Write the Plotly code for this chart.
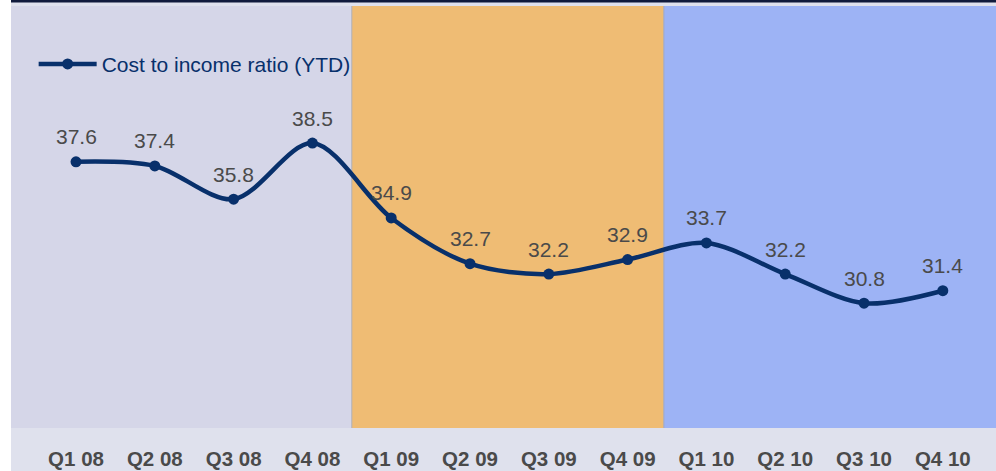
import plotly.graph_objects as go

quarters = ["Q1 08", "Q2 08", "Q3 08", "Q4 08", "Q1 09", "Q2 09",
            "Q3 09", "Q4 09", "Q1 10", "Q2 10", "Q3 10", "Q4 10"]
cost_income = [37.6, 37.4, 35.8, 38.5, 34.9, 32.7, 32.2, 32.9, 33.7, 32.2, 30.8, 31.4]
series_name = "Cost to income ratio (YTD)"

x_idx = list(range(len(quarters)))
NAVY = "#08306b"
FONT = "Liberation Sans, Arial, sans-serif"

fig = go.Figure()
fig.add_trace(go.Scatter(
    x=x_idx, y=cost_income, name=series_name,
    mode="lines+markers",
    line=dict(color=NAVY, width=4.5, shape="spline", smoothing=0.9),
    marker=dict(color=NAVY, size=11),
))

PW, PH = 985, 422
xr = [-0.825, 11.675]
shapes = [
    dict(type="rect", xref="x", yref="paper", x0=xr[0], x1=3.5, y0=0, y1=1,
         fillcolor="#d5d6e8", line=dict(width=0), layer="below"),
    dict(type="rect", xref="x", yref="paper", x0=3.5, x1=7.46, y0=0, y1=1,
         fillcolor="#efbc74", line=dict(width=0), layer="below"),
    dict(type="rect", xref="x", yref="paper", x0=7.46, x1=xr[1], y0=0, y1=1,
         fillcolor="#9db3f5", line=dict(width=0), layer="below"),
    dict(type="line", xref="x", yref="paper", x0=3.5, x1=3.5, y0=0, y1=1,
         line=dict(color="#b0b0b8", width=1), layer="below"),
    dict(type="line", xref="x", yref="paper", x0=7.46, x1=7.46, y0=0, y1=1,
         line=dict(color="#a0a8c0", width=1), layer="below"),
    # white margin at left
    dict(type="rect", xref="paper", yref="paper", x0=-12/PW, x1=0, y0=-50/PH, y1=1 + 10/PH,
         fillcolor="white", line=dict(width=0), layer="below"),
    # dark top strip
    dict(type="rect", xref="paper", yref="paper", x0=0, x1=1.01, y0=1 + 3.5/PH, y1=1 + 7/PH,
         fillcolor="#101a3c", line=dict(width=0), layer="above"),
]

annotations = []
for i, v in zip(x_idx, cost_income):
    annotations.append(dict(
        x=i, y=v, xref="x", yref="y", text=f"{v:.1f}", showarrow=False,
        yshift=25,
        font=dict(family=FONT, size=21, color="#4a4a4a"),
    ))

fig.update_layout(
    width=996, height=471,
    margin=dict(l=11, r=0, t=6, b=43),
    paper_bgcolor="#dfe1ed",
    plot_bgcolor="#dfe1ed",
    showlegend=True,
    legend=dict(x=0.023, y=0.862, xanchor="left", yanchor="middle",
                bgcolor="rgba(0,0,0,0)", itemwidth=58,
                font=dict(family=FONT, size=21, color=NAVY)),
    xaxis=dict(range=xr, tickmode="array", tickvals=x_idx, ticktext=quarters,
               showgrid=False, zeroline=False, showline=False, ticks="",
               ticklabelstandoff=16,
               tickfont=dict(family=FONT, size=20.5, color="#4a4a4a", weight="bold")),
    yaxis=dict(range=[24.8, 45.09], visible=False, showgrid=False, zeroline=False),
    shapes=shapes,
    annotations=annotations,
)

fig.write_html("out.html", config={"displayModeBar": False},
               post_script="document.body.style.margin='0';")
